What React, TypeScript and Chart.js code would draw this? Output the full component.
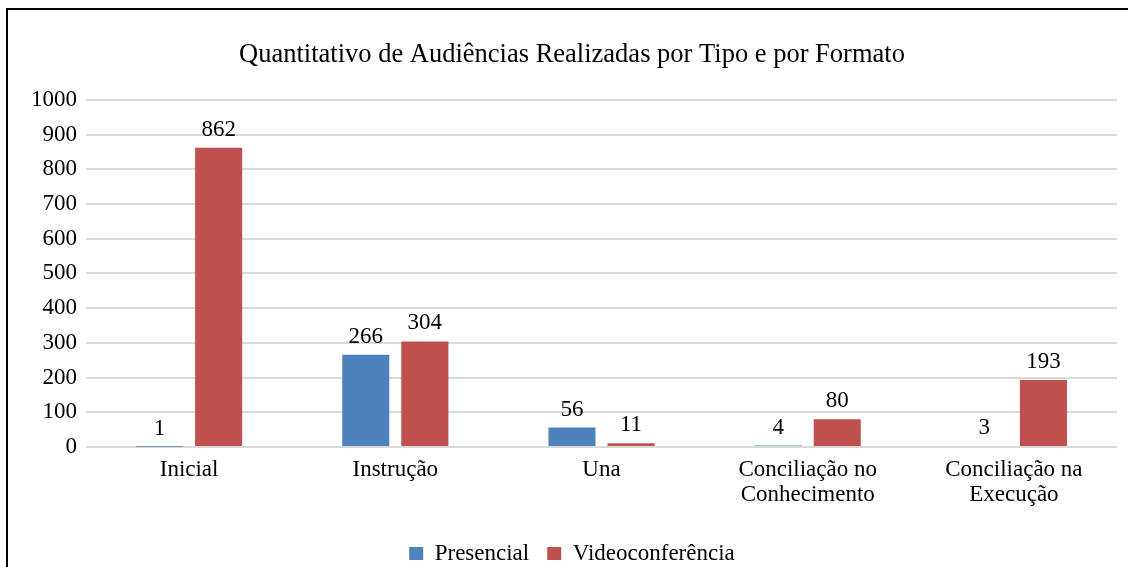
import React, { useEffect, useRef } from "react";
import { Chart, registerables } from "chart.js";

Chart.register(...registerables);

const categories: (string | string[])[] = [
  "Inicial",
  "Instrução",
  "Una",
  ["Conciliação no", "Conhecimento"],
  ["Conciliação na", "Execução"],
];
const presencial = [1, 266, 56, 4, 3];
const videoconferencia = [862, 304, 11, 80, 193];
const titleText = "Quantitativo de Audiências Realizadas por Tipo e por Formato";
const FONT = "'Liberation Serif', 'Times New Roman', serif";

const dataLabels = {
  id: "dataLabels",
  afterDatasetsDraw(chart: any) {
    const ctx = chart.ctx;
    ctx.save();
    ctx.font = `23px ${FONT}`;
    ctx.fillStyle = "#000";
    ctx.textAlign = "center";
    ctx.textBaseline = "alphabetic";
    chart.data.datasets.forEach((ds: any, i: number) => {
      const meta = chart.getDatasetMeta(i);
      meta.data.forEach((bar: any, j: number) => {
        ctx.fillText(String(ds.data[j]), bar.x, bar.y - 12);
      });
    });
    ctx.restore();
  },
};

export default function App() {
  const ref = useRef<HTMLCanvasElement>(null);
  useEffect(() => {
    document.body.style.overflow = "hidden";
    if (!ref.current) return;
    const chart = new Chart(ref.current, {
      type: "bar",
      data: {
        labels: categories,
        datasets: [
          {
            label: "Presencial",
            data: presencial,
            backgroundColor: "#4F81BD",
            categoryPercentage: 0.573,
            barPercentage: 0.797,
          },
          {
            label: "Videoconferência",
            data: videoconferencia,
            backgroundColor: "#C0504D",
            categoryPercentage: 0.573,
            barPercentage: 0.797,
          },
        ],
      },
      options: {
        responsive: false,
        animation: false,
        layout: { padding: { left: 27, right: 11, top: 0, bottom: -8 } },
        plugins: {
          title: {
            display: true,
            text: titleText,
            color: "#000",
            font: { family: FONT, size: 26.5, weight: "normal" },
            padding: { top: 39.5, bottom: 28.5 },
          },
          legend: {
            position: "bottom",
            labels: {
              color: "#000",
              font: { family: FONT, size: 23 },
              boxWidth: 14,
              boxHeight: 13,
              padding: 18,
            },
          },
          tooltip: { enabled: false },
        },
        scales: {
          x: {
            grid: { display: false },
            border: { display: false },
            ticks: {
              color: "#000",
              font: { family: FONT, size: 23, lineHeight: 1.1 },
              padding: 2,
              maxRotation: 0,
              autoSkip: false,
            },
            afterFit(scale: any) {
              scale.height = 77;
            },
          },
          y: {
            min: 0,
            max: 1000,
            ticks: {
              stepSize: 100,
              color: "#000",
              font: { family: FONT, size: 23 },
              padding: 9,
              callback: (v: any) => String(v),
            },
            grid: { color: "#D9D9D9", lineWidth: 2, drawTicks: false },
            border: { display: false },
            afterFit(scale: any) {
              scale.width = 59;
            },
          },
        },
      },
      plugins: [dataLabels],
    });
    return () => chart.destroy();
  }, []);
  return (
    <>
      <canvas
        ref={ref}
        width={1128}
        height={567}
        style={{ position: "fixed", left: 0, top: 0, width: 1128, height: 567, background: "#fff" }}
      />
      <div
        style={{
          position: "fixed",
          left: 6,
          top: 8,
          width: 1122,
          height: 559,
          boxSizing: "border-box",
          borderLeft: "2px solid #000",
          borderTop: "2px solid #000",
          pointerEvents: "none",
        }}
      />
    </>
  );
}
